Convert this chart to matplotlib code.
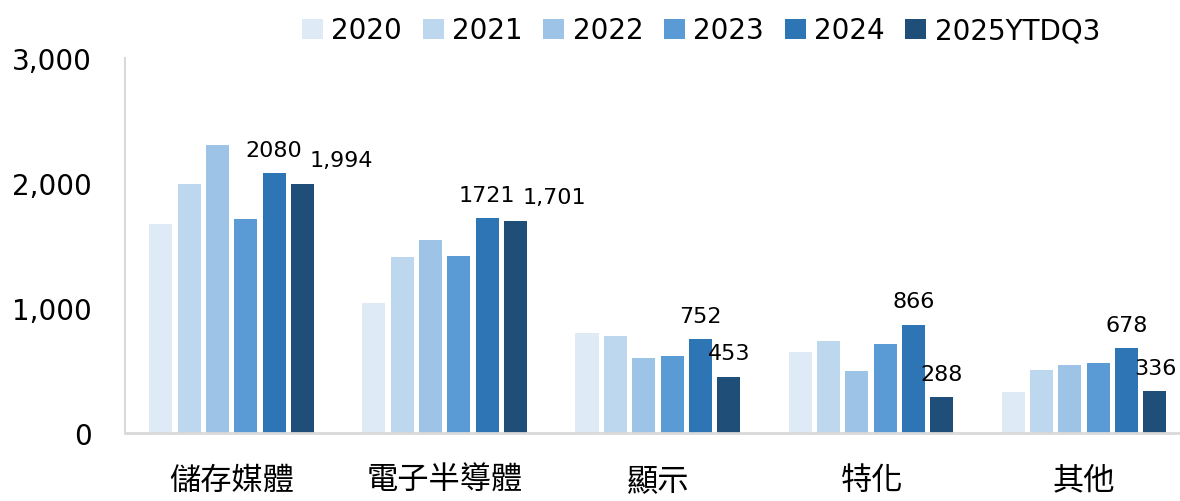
import numpy as np
import matplotlib.pyplot as plt

plt.rcParams['font.family'] = ['DejaVu Sans', 'Noto Sans CJK TC']

categories = ["儲存媒體", "電子半導體", "顯示", "特化", "其他"]
years = ["2020", "2021", "2022", "2023", "2024", "2025YTDQ3"]
v2020 = [1672, 1040, 800, 648, 328]
v2021 = [1992, 1408, 776, 736, 504]
v2022 = [2304, 1544, 600, 496, 544]
v2023 = [1712, 1416, 616, 712, 560]
v2024 = [2080, 1721, 752, 866, 678]
v2025 = [1994, 1701, 453, 288, 336]
series = [v2020, v2021, v2022, v2023, v2024, v2025]
colors = ["#DEEBF7", "#BDD7EE", "#9DC3E6", "#5B9BD5", "#2E75B6", "#1F4E79"]

fig = plt.figure(figsize=(11.8, 5.02), dpi=100)
ax = fig.add_axes([0.106, 0.135, 0.894, 0.747])

x = np.arange(len(categories))
slot = 0.133
bw = 0.108
for i, (vals, c, lab) in enumerate(zip(series, colors, years)):
    pos = x + (i - 2.5) * slot
    ax.bar(pos, vals, width=bw, color=c, label=lab, zorder=2)
    if i == 4:
        for p, v in zip(pos, vals):
            ax.text(p, v + 140, f"{v}", ha="center", va="baseline", fontsize=16)
    if i == 5:
        for p, v in zip(pos, vals):
            # big bars: label pushed right so it clears the 2024 label
            dx = 0.18 if v > 1000 else 0
            ax.text(p + dx, v + 140, f"{v:,}", ha="center", va="baseline", fontsize=16)

ax.set_xlim(-0.5, 4.45)
ax.set_ylim(0, 3000)
ax.set_yticks([0, 1000, 2000, 3000])
ax.set_yticklabels(["0", "1,000", "2,000", "3,000"])
ax.set_xticks(x)
ax.set_xticklabels(categories, family=['Noto Sans CJK TC'], fontsize=22.5)
ax.tick_params(axis="y", length=0, labelsize=20, pad=24)
ax.tick_params(axis="x", length=0, pad=22)
for s in ["top", "right"]:
    ax.spines[s].set_visible(False)
ax.spines["left"].set_color("#D9D9D9")
ax.spines["bottom"].set_color("#D9D9D9")
ax.spines["bottom"].set_linewidth(2)
ax.spines["left"].set_linewidth(1.5)

fig.legend(loc="upper center", bbox_to_anchor=(0.594, 1.015), ncol=6, frameon=False,
           fontsize=20, handlelength=0.75, handleheight=0.75, handletextpad=0.3,
           columnspacing=0.75)

fig.savefig("out.png", dpi=100)
